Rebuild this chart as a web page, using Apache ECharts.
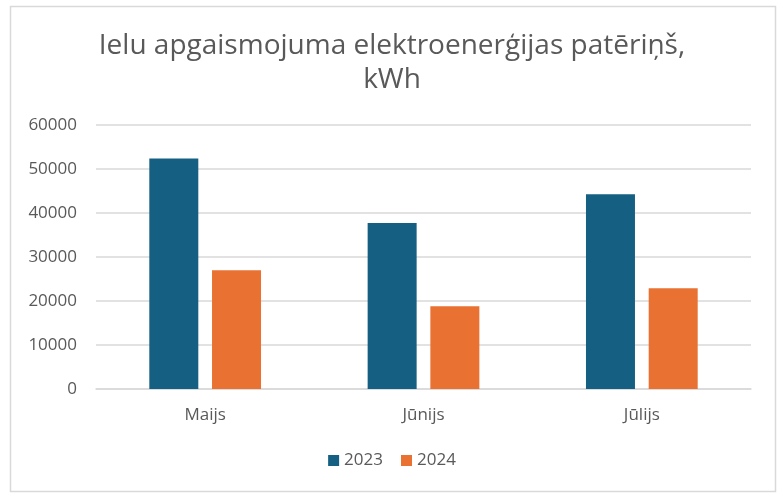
<!DOCTYPE html>
<html>
<head>
<meta charset="utf-8">
<script src="https://cdn.jsdelivr.net/npm/echarts@6/dist/echarts.min.js"></script>
<style>
  html, body { margin: 0; padding: 0; background: #fff; }
  #chart { width: 784px; height: 499px; }
</style>
</head>
<body>
<div id="chart"></div>
<script>
// Dati
const months = ['Maijs', 'Jūnijs', 'Jūlijs'];
const values2023 = [52400, 37700, 44250];
const values2024 = [27000, 18800, 22900];
const yTicks = [0, 10000, 20000, 30000, 40000, 50000, 60000];

const font = '"Open Sans", "Noto Sans", sans-serif';
const textColor = '#595959';

const chart = echarts.init(document.getElementById('chart'));

const option = {
    backgroundColor: '#fff',
    animation: false,
    graphic: [{
        type: 'rect',
        shape: { x: 10.5, y: 6.5, width: 765, height: 485 },
        style: { fill: 'none', stroke: '#d9d9d9', lineWidth: 1.5 },
        silent: true
    }],
    title: {
        text: 'Ielu apgaismojuma elektroenerģijas patēriņš,\nkWh',
        left: 'center',
        top: 24,
        textStyle: {
            fontFamily: font,
            fontSize: 28,
            fontWeight: 'normal',
            color: textColor,
            lineHeight: 34
        }
    },
    legend: {
        bottom: 25,
        left: 'center',
        itemWidth: 11,
        itemHeight: 11,
        itemGap: 18,
        icon: 'rect',
        textStyle: { fontFamily: font, fontSize: 17, color: textColor }
    },
    grid: {
        left: 96,
        right: 33,
        top: 125,
        bottom: 110,
        containLabel: false
    },
    xAxis: {
        type: 'category',
        data: months,
        axisTick: { show: false },
        axisLine: { lineStyle: { color: '#d9d9d9', width: 1.5 } },
        axisLabel: {
            fontFamily: font,
            fontSize: 17,
            color: textColor,
            margin: 18
        }
    },
    yAxis: {
        type: 'value',
        min: yTicks[0],
        max: yTicks[yTicks.length - 1],
        interval: 10000,
        axisLine: { show: false },
        axisTick: { show: false },
        splitLine: { lineStyle: { color: '#d9d9d9', width: 1.5 } },
        axisLabel: {
            fontFamily: font,
            fontSize: 17,
            color: textColor,
            margin: 19,
            formatter: (v) => String(v)
        }
    },
    series: [{
        name: '2023',
        type: 'bar',
        data: values2023,
        itemStyle: { color: '#156082' },
        barWidth: 49,
        barGap: '28%'
    }, {
        name: '2024',
        type: 'bar',
        data: values2024,
        itemStyle: { color: '#e97132' },
        barWidth: 49,
        barGap: '28%'
    }]
};

chart.setOption(option);
</script>
</body>
</html>
